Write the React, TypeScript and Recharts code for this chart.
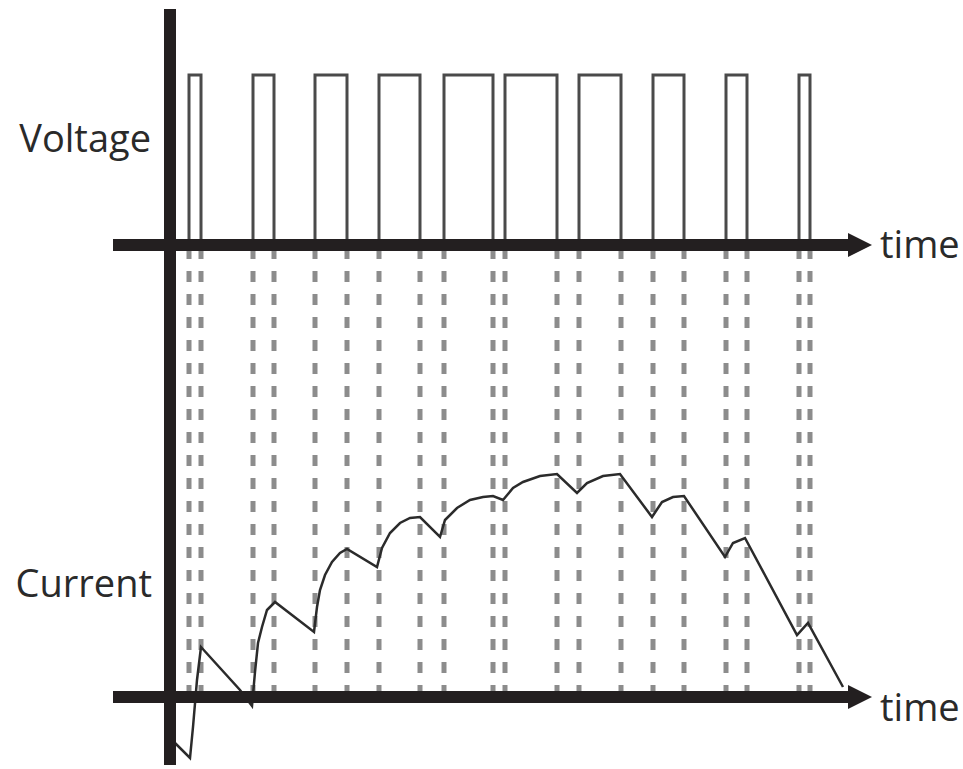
import React from 'react';
import { ComposedChart, Line, XAxis, YAxis, ReferenceLine, ReferenceDot } from 'recharts';

// time in ms, voltage on/off edges
const pulseOn = [19, 83, 145, 209, 274, 335, 409, 483, 556, 629];
const pulseOff = [31, 104, 177, 250, 323, 387, 451, 514, 577, 640];

// current samples (time ms, current A)
const currentT = [0, 6, 20, 23, 27, 31, 70, 82, 85, 88, 92, 97, 105, 144, 147, 150, 155, 162, 170, 177, 207, 212, 220, 230, 240, 250, 270, 275, 287, 300, 313, 323, 333, 343, 353, 370, 387, 407, 417, 433, 450, 482, 492, 503, 514, 555, 563, 575, 627, 638, 673];
const currentI = [-0.82, -0.94, -1.22, -0.6, 0.34, 1.0, 0.14, -0.18, 0.5, 1.08, 1.4, 1.74, 1.9, 1.3, 1.8, 2.14, 2.44, 2.7, 2.88, 2.96, 2.6, 2.98, 3.28, 3.48, 3.58, 3.6, 3.2, 3.54, 3.78, 3.94, 4.0, 4.02, 3.94, 4.18, 4.3, 4.42, 4.46, 4.08, 4.28, 4.42, 4.46, 3.6, 3.9, 4.0, 4.02, 2.8, 3.08, 3.18, 1.24, 1.48, 0.2];

const axisLabels = ['Voltage', 'Current'];
const timeLabel = 'time';

const T_MIN = -57;
const T_MAX = 720;
const ARROW_TIP = 702;
const V_DOMAIN: [number, number] = [-3.0588, 1.3882];
const I_DOMAIN: [number, number] = [-1.36, 13.76];
const DASH_TOP = 8.98;

const voltageData: { t: number; v: number | null }[] = [];
pulseOn.forEach((on, i) => {
  const off = pulseOff[i];
  voltageData.push({ t: on, v: 0 });
  voltageData.push({ t: on, v: 1 });
  voltageData.push({ t: off, v: 1 });
  voltageData.push({ t: off, v: 0 });
  voltageData.push({ t: off, v: null });
});

const currentData = currentT.map((t, i) => ({ t, i: currentI[i] }));
const edges = [...pulseOn, ...pulseOff].sort((a, b) => a - b);

const AXIS_COLOR = '#231f20';
const FONT = '"Open Sans", "DejaVu Sans", sans-serif';

const makeArrowAxis = (labelDy: number) => (props: any) => {
  const { x1, y1, x2 } = props;
  const head = 24;
  const half = 12;
  return (
    <g>
      <line x1={x1} y1={y1} x2={x2 - head + 4} y2={y1} stroke={AXIS_COLOR} strokeWidth={12} />
      <polygon points={`${x2 - head},${y1 - half} ${x2},${y1} ${x2 - head},${y1 + half}`} fill={AXIS_COLOR} />
      <text x={x2 + 8} y={y1 + labelDy} fontFamily={FONT} fontSize={38} fill="#2a2a2a">
        {timeLabel}
      </text>
    </g>
  );
};

const SideLabel = (text: string) => (props: any) => (
  <text x={props.cx} y={props.cy} textAnchor="end" fontFamily={FONT} fontSize={38} fill="#2a2a2a">
    {text}
  </text>
);

export default function App() {
  return (
    <div style={{ position: 'absolute', left: 0, top: 0, width: 963, height: 769, background: '#fff' }}>
      <ComposedChart width={963} height={769} margin={{ top: 9, right: 73, bottom: 4, left: 113 }}>
        <XAxis type="number" dataKey="t" domain={[T_MIN, T_MAX]} allowDataOverflow hide />
        <YAxis yAxisId="v" type="number" domain={V_DOMAIN} allowDataOverflow hide />
        <YAxis yAxisId="i" type="number" domain={I_DOMAIN} allowDataOverflow hide />

        {edges.map((e, k) => (
          <ReferenceLine
            key={'d' + k}
            yAxisId="i"
            segment={[{ x: e, y: DASH_TOP }, { x: e, y: 0 }]}
            stroke="#8c8c8c"
            strokeWidth={5}
            strokeDasharray="11 12"
          />
        ))}

        <Line
          yAxisId="v"
          data={voltageData}
          dataKey="v"
          type="linear"
          stroke="#4a4a4a"
          strokeWidth={3}
          dot={false}
          activeDot={false}
          connectNulls={false}
          isAnimationActive={false}
        />
        <Line
          yAxisId="i"
          data={currentData}
          dataKey="i"
          type="linear"
          stroke="#2b2b2b"
          strokeWidth={2.5}
          dot={false}
          activeDot={false}
          isAnimationActive={false}
        />

        <ReferenceLine yAxisId="i" x={0} stroke={AXIS_COLOR} strokeWidth={12} zIndex={500} />
        <ReferenceLine
          yAxisId="v"
          segment={[{ x: T_MIN, y: 0 }, { x: ARROW_TIP, y: 0 }]}
          shape={makeArrowAxis(13)}
          zIndex={500}
        />
        <ReferenceLine
          yAxisId="i"
          segment={[{ x: T_MIN, y: 0 }, { x: ARROW_TIP, y: 0 }]}
          shape={makeArrowAxis(24)}
          zIndex={500}
        />
        <ReferenceDot yAxisId="v" x={-19} y={0.547} r={0} shape={SideLabel(axisLabels[0])} zIndex={500} />
        <ReferenceDot yAxisId="i" x={-18} y={2.0} r={0} shape={SideLabel(axisLabels[1])} zIndex={500} />
      </ComposedChart>
    </div>
  );
}
